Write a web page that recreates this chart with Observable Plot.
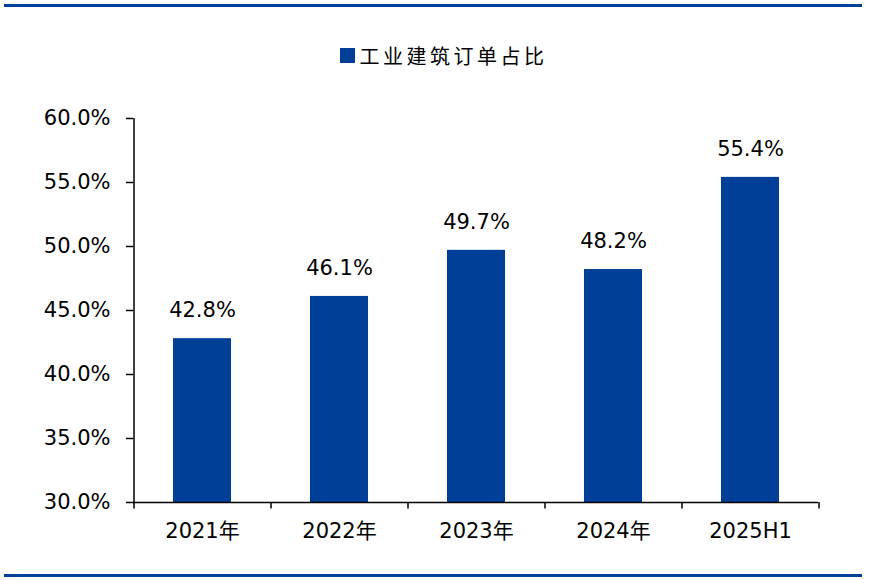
<!DOCTYPE html>
<html><head><meta charset="utf-8">
<script src="https://cdn.jsdelivr.net/npm/d3@7"></script>
<script src="https://cdn.jsdelivr.net/npm/@observablehq/plot@0.6"></script>
<style>
body{margin:0;background:#fff;}
#wrap{position:relative;width:871px;height:580px;overflow:hidden;font-family:"DejaVu Sans","Noto Sans CJK SC",sans-serif;}
.hline{position:absolute;left:4px;width:858px;height:3px;background:#004098;}
#legend{position:absolute;top:41px;left:0;width:871px;display:flex;justify-content:center;align-items:center;font-family:"Noto Sans CJK SC",sans-serif;font-size:20px;letter-spacing:3.5px;color:#000;}
#legend span.sw{display:inline-block;width:15px;height:15px;background:#003f97;margin-right:5px;margin-left:16px;}
#chart{position:absolute;left:0;top:0;}
</style></head>
<body><div id="wrap">
<div class="hline" style="top:4px"></div>
<div class="hline" style="top:574px"></div>
<div id="legend"><span class="sw"></span><span id="legtxt"></span></div>
<div id="chart"></div>
</div>
<script>
const categories = ["2021年","2022年","2023年","2024年","2025H1"];
const values = [42.8, 46.1, 49.7, 48.2, 55.4];
const seriesName = "工业建筑订单占比";
const yTicks = [30,35,40,45,50,55,60];

const data = categories.map((c,i)=>({cat:c, v:values[i]}));
document.getElementById("legtxt").textContent = seriesName;
const barColor = "#003f97";
const half = 68.5;

const chart = Plot.plot({
  width: 871, height: 580,
  marginLeft: 133, marginRight: 53, marginTop: 118, marginBottom: 78,
  style: {fontFamily: '"DejaVu Sans","Noto Sans CJK SC",sans-serif', fontSize: "21px", color: "#000", background: "transparent"},
  x: {domain: categories, paddingInner: 0.58, paddingOuter: 0.29, label: null},
  y: {domain: [30, 60], label: null},
  marks: [
    Plot.barY(data, {x: "cat", y1: 30, y2: "v", fill: barColor}),
    Plot.text(data, {x: "cat", y: "v", text: d => d.v.toFixed(1) + "%", dy: -28, fontSize: 21, fill: "#000"}),
    Plot.ruleY([30], {stroke: "#000", strokeWidth: 1.5}),
    Plot.ruleX([categories[0]], {x: d => d, y1: 30, y2: 60, dx: -half, stroke: "#000", strokeWidth: 1.5}),
    Plot.ruleX(categories, {x: d => d, y1: 30, y2: 29.5, dx: -half, stroke: "#000", strokeWidth: 1.5}),
    Plot.ruleX([categories[categories.length-1]], {x: d => d, y1: 30, y2: 29.5, dx: half, stroke: "#000", strokeWidth: 1.5}),
    Plot.axisY({ticks: yTicks, tickFormat: d => d.toFixed(1) + "%", tickSize: 7, tickPadding: 16, fontSize: 21, stroke: "#000", strokeWidth: 1.5, label: null}),
    Plot.axisX({tickSize: 0, tickPadding: 21, fontSize: 21, label: null})
  ]
});
document.getElementById("chart").appendChild(chart);
</script>
</body></html>
